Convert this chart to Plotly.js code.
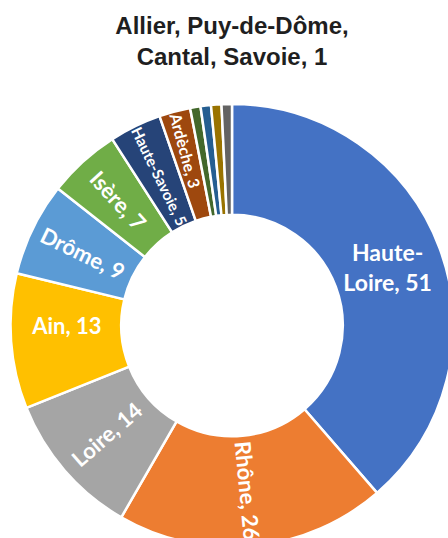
<!DOCTYPE html>
<html>
<head>
<meta charset="utf-8">
<script src="https://cdn.plot.ly/plotly-3.0.1.min.js"></script>
<style>
html,body{margin:0;padding:0;overflow:hidden;background:#fff;}
#chart{width:454px;height:547px;}
</style>
</head>
<body>
<div id="chart"></div>
<script>
const departments = ["Haute-Loire","Rhône","Loire","Ain","Drôme","Isère","Haute-Savoie","Ardèche","Allier","Puy-de-Dôme","Cantal","Savoie"];
const counts = [51,26,14,13,9,7,5,3,1,1,1,1];
const sliceColors = ["#4472C4","#ED7D31","#A5A5A5","#FFC000","#5B9BD5","#70AD47","#264478","#9E480E","#43682B","#255E91","#997300","#636363"];
const horizontalLabels = ["Haute-Loire"];
const radialLabels = ["Rhône","Loire","Ain","Drôme","Isère","Haute-Savoie","Ardèche"];
const groupedLabel = ["Allier","Puy-de-Dôme","Cantal","Savoie"];

function fmt(name, v){
  const n = name === "Haute-Loire" ? "Haute-<br>Loire" : name;
  return n + ", " + v;
}
const textH = departments.map((d,i)=> horizontalLabels.includes(d) ? fmt(d,counts[i]) : "");
const textR = departments.map((d,i)=> radialLabels.includes(d) ? fmt(d,counts[i]) : "");
const groupedValue = counts[departments.indexOf(groupedLabel[0])];

const common = {
  type: "pie",
  labels: departments,
  values: counts,
  sort: false,
  direction: "clockwise",
  rotation: 0,
  hole: 0.5,
  textinfo: "text",
  textposition: "inside",
  hoverinfo: "none",
  showlegend: false,
  domain: {x:[0,1], y:[0,1]}
};

const trace1 = Object.assign({}, common, {
  text: textH,
  insidetextorientation: "horizontal",
  marker: {colors: sliceColors, line: {color: "#ffffff", width: 2.5}},
  textfont: {family: "Lato, 'Open Sans', sans-serif", size: 23, color: "#ffffff", weight: 700}
});
const trace2 = Object.assign({}, common, {
  text: textR,
  insidetextorientation: "radial",
  marker: {colors: departments.map(()=> "rgba(0,0,0,0)"), line: {width: 0}},
  textfont: {family: "Lato, 'Open Sans', sans-serif", size: 22, color: "#ffffff", weight: 700}
});

const layout = {
  width: 454,
  height: 547,
  margin: {l: 10, r: 0, t: 104, b: 0},
  paper_bgcolor: "#ffffff",
  title: {
    text: groupedLabel.slice(0,2).join(", ") + ",<br>" + groupedLabel.slice(2).join(", ") + ", " + groupedValue,
    font: {family: "'Liberation Sans', Arial, sans-serif", size: 24, color: "#1f1f1f", weight: 700},
    x: 232/454, xref: "container", xanchor: "center",
    y: 1 - 34/547, yref: "container", yanchor: "top"
  }
};

Plotly.newPlot("chart", [trace1, trace2], layout, {displayModeBar: false, staticPlot: true});
</script>
</body>
</html>
